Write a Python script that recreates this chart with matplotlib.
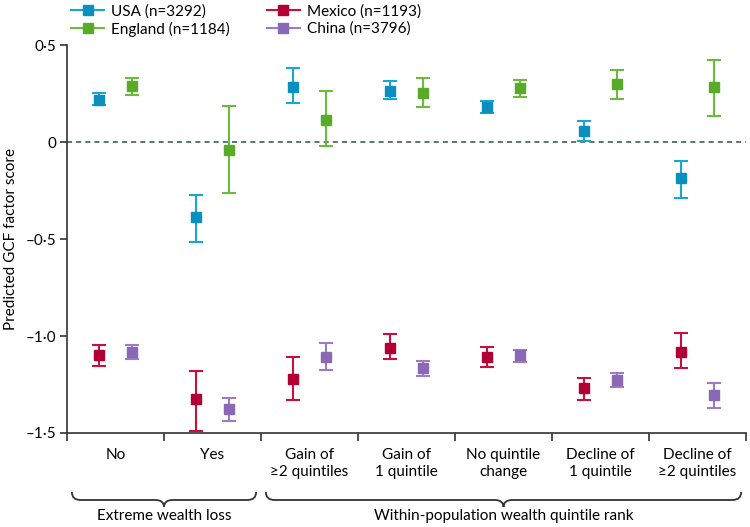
import numpy as np
import matplotlib.pyplot as plt
from matplotlib.path import Path
from matplotlib.patches import PathPatch
from matplotlib.lines import Line2D
import matplotlib.transforms as mtransforms

plt.rcParams['font.family'] = ['Lato', 'DejaVu Sans']

# --- Data ---
categories = ['No', 'Yes', 'Gain of\n≥2 quintiles', 'Gain of\n1 quintile',
              'No quintile\nchange', 'Decline of\n1 quintile', 'Decline of\n≥2 quintiles']
groups = ['Extreme wealth loss', 'Within-population wealth quintile rank']
group_sizes = [2, 5]

usa_est = [0.218, -0.385, 0.282, 0.263, 0.180, 0.057, -0.184]
usa_lo = [0.190, -0.514, 0.203, 0.223, 0.151, 0.003, -0.287]
usa_hi = [0.251, -0.275, 0.381, 0.314, 0.213, 0.108, -0.098]

eng_est = [0.289, -0.041, 0.115, 0.251, 0.280, 0.301, 0.282]
eng_lo = [0.242, -0.265, -0.019, 0.179, 0.232, 0.220, 0.134]
eng_hi = [0.330, 0.184, 0.261, 0.330, 0.321, 0.371, 0.424]

mex_est = [-1.096, -1.326, -1.220, -1.060, -1.110, -1.270, -1.081]
mex_lo = [-1.153, -1.488, -1.332, -1.119, -1.160, -1.330, -1.167]
mex_hi = [-1.048, -1.179, -1.108, -0.990, -1.055, -1.215, -0.985]

chn_est = [-1.081, -1.375, -1.107, -1.167, -1.100, -1.229, -1.304]
chn_lo = [-1.119, -1.438, -1.174, -1.206, -1.132, -1.263, -1.371]
chn_hi = [-1.046, -1.321, -1.038, -1.127, -1.071, -1.191, -1.241]

yticks = [0.5, 0, -0.5, -1.0, -1.5]
yticklabels = ['0·5', '0', '–0·5', '–1·0', '–1·5']

series = [
    ('USA (n=3292)', usa_est, usa_lo, usa_hi, 0.33, '#1aa6d3', '#0a8fbe'),
    ('England (n=1184)', eng_est, eng_lo, eng_hi, 0.67, '#6dbb3c', '#5aaa2a'),
    ('Mexico (n=1193)', mex_est, mex_lo, mex_hi, 0.33, '#c8103f', '#b00035'),
    ('China (n=3796)', chn_est, chn_lo, chn_hi, 0.67, '#9d7bc4', '#8a68b5'),
]

fig = plt.figure(figsize=(7.5, 5.27), dpi=100)
ax = fig.add_axes([67 / 750, 1 - 433 / 527, (746 - 67) / 750, (433 - 45) / 527])

n = len(categories)
base = np.arange(n)
handles = []
for label, est, lo, hi, off, c_bar, c_mark in series:
    est = np.array(est)
    err = np.vstack([est - np.array(lo), np.array(hi) - est])
    ax.errorbar(base + off, est, yerr=err, fmt='none', ecolor=c_bar,
                elinewidth=1.5, capsize=5, capthick=1.5, clip_on=False, zorder=3)
    ax.plot(base + off, est, 's', color=c_mark, ms=6.5, clip_on=False, zorder=4)
    handles.append(Line2D([0], [0], color=c_bar, lw=1.5, marker='s',
                          ms=6.5, mfc=c_mark, mec=c_mark, label=label))

ax.axhline(0, color='#3d5b6b', lw=1.2, ls=(0, (3, 2.5)), zorder=1)

ax.set_xlim(0, n)
ax.set_ylim(-1.5, 0.5)
ax.set_yticks(yticks)
ax.set_yticklabels(yticklabels)
ax.set_xticks(np.arange(n + 1))
ax.set_xticklabels([])
ax.set_xticks(base + 0.5, minor=True)
ax.set_xticklabels(categories, minor=True, fontsize=11, linespacing=1.25)
ax.tick_params(axis='x', which='minor', length=0, pad=11)
ax.tick_params(axis='x', which='major', length=6, width=1.2, color='#333333', direction='out')
ax.tick_params(axis='y', length=5, width=1.2, color='#333333', labelsize=11, pad=3)
for lab in ax.get_xticklabels(minor=True):
    lab.set_verticalalignment('top')

for side in ['top', 'right']:
    ax.spines[side].set_visible(False)
for side in ['left', 'bottom']:
    ax.spines[side].set_color('#333333')
    ax.spines[side].set_linewidth(1.2)

ax.set_ylabel('Predicted GCF factor score', fontsize=11, labelpad=6)
ax.yaxis.set_label_coords(-0.072, 0.5)

# braces under category groups
trans = mtransforms.blended_transform_factory(ax.transData, fig.transFigure)
y_top = 1 - 492 / 527
y_mid = 1 - 500 / 527
y_tip = 1 - 507 / 527
r = 0.09
start = 0
for name, size in zip(groups, group_sizes):
    x0 = start + 0.05
    x1 = start + size - 0.05
    xm = (x0 + x1) / 2
    verts = [(x0, y_top), (x0, y_mid), (x0 + r, y_mid),
             (xm - r, y_mid), (xm, y_mid), (xm, y_tip),
             (xm, y_mid), (xm + r, y_mid),
             (x1 - r, y_mid), (x1, y_mid), (x1, y_top)]
    codes = [Path.MOVETO, Path.CURVE3, Path.CURVE3,
             Path.LINETO, Path.CURVE3, Path.CURVE3,
             Path.CURVE3, Path.CURVE3,
             Path.LINETO, Path.CURVE3, Path.CURVE3]
    ax.add_patch(PathPatch(Path(verts, codes), transform=trans, fill=False,
                           lw=1.3, color='#333333', clip_on=False))
    ax.text(start + size / 2, 1 - 516 / 527, name, transform=trans,
            ha='center', va='center', fontsize=11)
    start += size

fig.legend(handles=handles, ncol=2, loc='upper left', bbox_to_anchor=(60 / 750, 1.012),
           frameon=False, fontsize=11, handlelength=2.2, columnspacing=2.4,
           labelspacing=0.2, handletextpad=0.45, borderpad=0.2)

fig.savefig('out.png', dpi=100)
